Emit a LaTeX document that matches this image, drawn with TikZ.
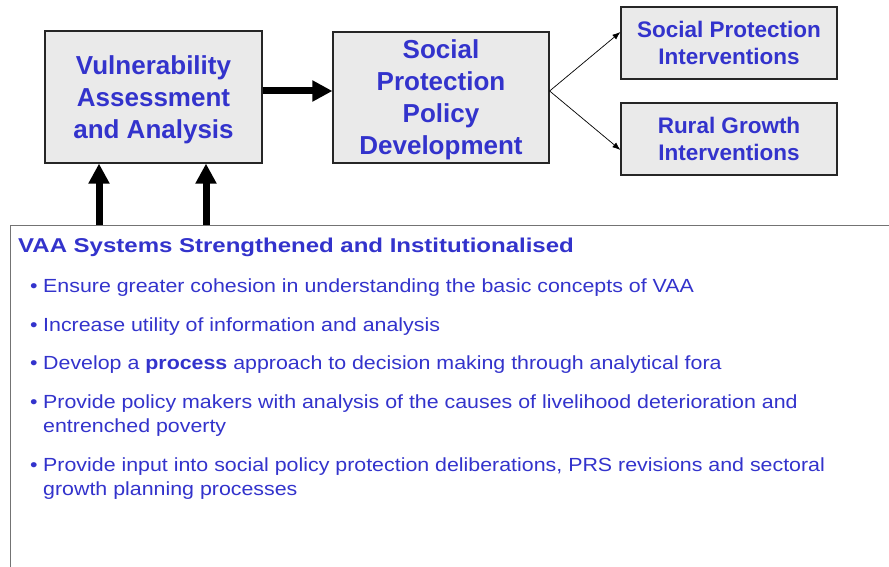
\documentclass[tikz,border=0pt]{standalone}
\usepackage{fontspec}
\setmainfont{Liberation Sans}
\newfontfamily\headfont{Liberation Sans}[FakeStretch=1.2]
\newfontfamily\itemfont{Liberation Sans}[FakeStretch=1.125]
\usetikzlibrary{arrows.meta, calc}
\definecolor{vaablue}{HTML}{3333CC}
\definecolor{boxgray}{HTML}{EAEAEA}

\begin{document}
\begin{tikzpicture}[x=1pt, y=-1pt,
        stagebox/.style={draw=black!85, fill=boxgray, line width=1.2pt, inner sep=0pt, align=center, text=vaablue, text depth=0pt},
        bigarrow/.style={line width=7pt, -{Triangle[length=20pt, width=20pt]}},
        thinarrow/.style={line width=0.7pt, -{Latex[length=8pt, width=6pt]}},
        itemtext/.style={anchor=base west, inner sep=0pt, align=left, text=vaablue, font=\itemfont\fontsize{19}{24.5}\selectfont}]
        \useasboundingbox (0,0) rectangle (889,567);
        \clip (0,0) rectangle (889,567);

        % stages
        \node[stagebox, minimum width=217pt, minimum height=132pt, font=\bfseries\fontsize{26}{32}\selectfont] (vaa) at (153.5,97) {Vulnerability\\Assessment\\and Analysis};
        \node[stagebox, minimum width=216pt, minimum height=131pt, font=\bfseries\fontsize{26}{32}\selectfont] (sppd) at (441,97.5) {Social\\Protection\\Policy\\Development};
        \node[stagebox, minimum width=216pt, minimum height=72pt, font=\bfseries\fontsize{22.5}{27}\selectfont] (spi) at (729,43) {Social Protection\\Interventions};
        \node[stagebox, minimum width=216pt, minimum height=72pt, font=\bfseries\fontsize{22.5}{27}\selectfont] (rgi) at (729,139) {Rural Growth\\Interventions};

        % systems box
        \node[draw=black!55, line width=1.2pt, fill=white, anchor=north west, minimum width=900pt, minimum height=360pt, inner sep=0pt] (vaasys) at (10,225) {};

        \draw[bigarrow] (vaa.east |- 0,91) -- (sppd.west |- 0,91);
        \draw[thinarrow] (sppd.east |- 0,91) -- (spi.west |- 0,32);
        \draw[thinarrow] (sppd.east |- 0,91) -- (rgi.west |- 0,150);
        \draw[bigarrow] (vaasys.north -| 99,0) -- (vaa.south -| 99,0);
        \draw[bigarrow] (vaasys.north -| 206,0) -- (vaa.south -| 206,0);

        % contents
        \node[itemtext, font=\headfont\bfseries\fontsize{20}{24}\selectfont] (head) at (18,252) {VAA Systems Strengthened and Institutionalised};
        \foreach \y/\name in {292/one, 331/two, 369/three, 408/four, 471/five}
            \node[itemtext] (b\name) at (30,\y) {\textbullet};
        \node[itemtext] (tone) at (43,292) {Ensure greater cohesion in understanding the basic concepts of VAA};
        \node[itemtext] (ttwo) at (43,331) {Increase utility of information and analysis};
        \node[itemtext] (tthree) at (43,369) {Develop a \textbf{process} approach to decision making through analytical fora};
        % two-line items sit on their last line
        \node[itemtext] (tfour) at (43,432.5) {Provide policy makers with analysis of the causes of livelihood deterioration and\\entrenched poverty};
        \node[itemtext] (tfive) at (43,495.5) {Provide input into social policy protection deliberations, PRS revisions and sectoral\\growth planning processes};
    \end{tikzpicture}
\end{document}
